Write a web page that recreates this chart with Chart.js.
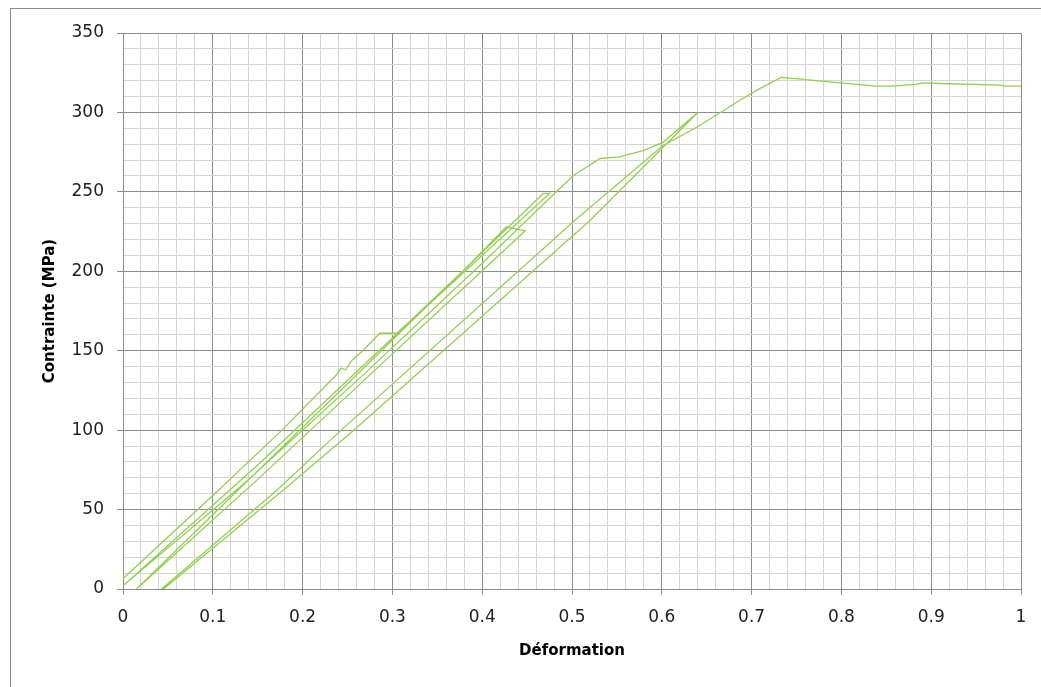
<!DOCTYPE html>
<html>
<head>
<meta charset="utf-8">
<script src="https://cdn.jsdelivr.net/npm/chart.js@4/dist/chart.umd.min.js"></script>
<style>
  body { margin: 0; background: #fff; }
  #wrap { position: relative; width: 1041px; height: 687px; }
</style>
</head>
<body>
<div id="wrap"><canvas id="chart" width="1041" height="687"></canvas></div>
<script>
// cycle 1 : first loading with hold at ~161 MPa, creep at ~227 MPa
const load1Strain = [0, 0.106, 0.177, 0.238, 0.243, 0.248, 0.255, 0.267, 0.286, 0.305, 0.323, 0.38, 0.427, 0.448];
const load1Stress = [6.5, 62, 100, 135, 139, 138, 144, 150, 161, 161, 170.5, 201, 228, 225.5];
const unload1Strain = [0.3, 0.15, 0.015];
const unload1Stress = [148, 69, 0];

// cycle 2 : reload to 249 MPa, hold, unload
const reload1Strain = [0.134, 0.266, 0.4, 0.468, 0.475];
const reload1Stress = [65.5, 138, 212, 249, 249];
const unload2Strain = [0.3, 0.15, 0];
const unload2Stress = [158, 78, 2];

// cycle 3 : reload to 300 MPa, unload
const reload2Strain = [0.134, 0.266, 0.4, 0.475, 0.501, 0.531, 0.553, 0.579, 0.601, 0.64];
const reload2Stress = [66, 134, 205, 246, 260, 271, 272, 276, 281, 300];
const unload3Strain = [0.52, 0.257, 0.178, 0.045];
const unload3Stress = [232, 100, 62, 0];

// final loading up to the peak and plateau
const finalStrain = [0.043, 0.171, 0.243, 0.503, 0.601, 0.64, 0.687, 0.709, 0.733, 0.746, 0.798, 0.839, 0.857, 0.882, 0.891, 0.91, 0.977, 0.98, 1.0];
const finalStress = [0, 62, 100, 232, 279, 291, 307.7, 315, 322, 321.4, 318.6, 316.5, 316.5, 317.6, 318.6, 318.2, 317.2, 316.5, 316.5];

const xMin = 0, xMax = 1, xMinor = 0.02, xMajor = 0.1;
const yMin = 0, yMax = 350, yMinor = 10, yMajor = 50;

const strain = [].concat(load1Strain, unload1Strain, reload1Strain, unload2Strain, reload2Strain, unload3Strain, finalStrain);
const stress = [].concat(load1Stress, unload1Stress, reload1Stress, unload2Stress, reload2Stress, unload3Stress, finalStress);
const points = strain.map((x, i) => ({ x: x, y: stress[i] }));

function isMajor(v, step) {
    const r = v / step;
    return Math.abs(r - Math.round(r)) < 1e-6;
}

const frame = {
    id: 'frame',
    afterDraw(chart) {
        const ctx = chart.ctx;
        ctx.save();
        ctx.strokeStyle = '#8a8a8a';
        ctx.lineWidth = 1;
        ctx.strokeRect(10.5, 8.5, 1200, 800);
        ctx.restore();
    }
};

const MAJOR = '#8c8c8c', MINOR = '#d4d4d4';

new Chart(document.getElementById('chart'), {
    type: 'scatter',
    data: {
        datasets: [{
            data: points,
            showLine: true,
            borderColor: '#92D050',
            borderWidth: 1.3,
            pointRadius: 0,
            tension: 0
        }]
    },
    options: {
        responsive: false,
        animation: false,
        layout: { padding: { left: 0, top: 33, right: 20, bottom: 0 } },
        plugins: { legend: { display: false }, tooltip: { enabled: false } },
        scales: {
            x: {
                type: 'linear',
                min: xMin, max: xMax,
                afterFit(s) { s.height = 98; },
                ticks: {
                    stepSize: xMinor,
                    autoSkip: false,
                    maxRotation: 0,
                    padding: 12,
                    color: '#222',
                    font: { family: 'DejaVu Sans', size: 17 },
                    callback: v => isMajor(v, xMajor) ? String(Math.round(v * 10) / 10) : ''
                },
                grid: {
                    color: c => isMajor(c.tick.value, xMajor) ? MAJOR : MINOR,
                    tickColor: c => isMajor(c.tick.value, xMajor) ? MAJOR : 'rgba(0,0,0,0)',
                    tickLength: 6,
                    lineWidth: 1
                },
                border: { color: MAJOR },
                title: {
                    display: true,
                    text: 'Déformation',
                    color: '#000',
                    font: { family: 'DejaVu Sans', size: 15, weight: 'bold' },
                    padding: { top: 0, bottom: 27 }
                }
            },
            y: {
                type: 'linear',
                min: yMin, max: yMax,
                afterFit(s) { s.width = 123; },
                ticks: {
                    stepSize: yMinor,
                    autoSkip: false,
                    padding: 13,
                    color: '#222',
                    font: { family: 'DejaVu Sans', size: 17 },
                    callback: v => isMajor(v, yMajor) ? String(v) : ''
                },
                grid: {
                    color: c => isMajor(c.tick.value, yMajor) ? MAJOR : MINOR,
                    tickColor: c => isMajor(c.tick.value, yMajor) ? MAJOR : 'rgba(0,0,0,0)',
                    tickLength: 6,
                    lineWidth: 1
                },
                border: { color: MAJOR },
                title: {
                    display: true,
                    text: 'Contrainte (MPa)',
                    color: '#000',
                    font: { family: 'DejaVu Sans', size: 15, weight: 'bold' },
                    padding: { top: 41, bottom: 0 }
                }
            }
        }
    },
    plugins: [frame]
});
</script>
</body>
</html>
